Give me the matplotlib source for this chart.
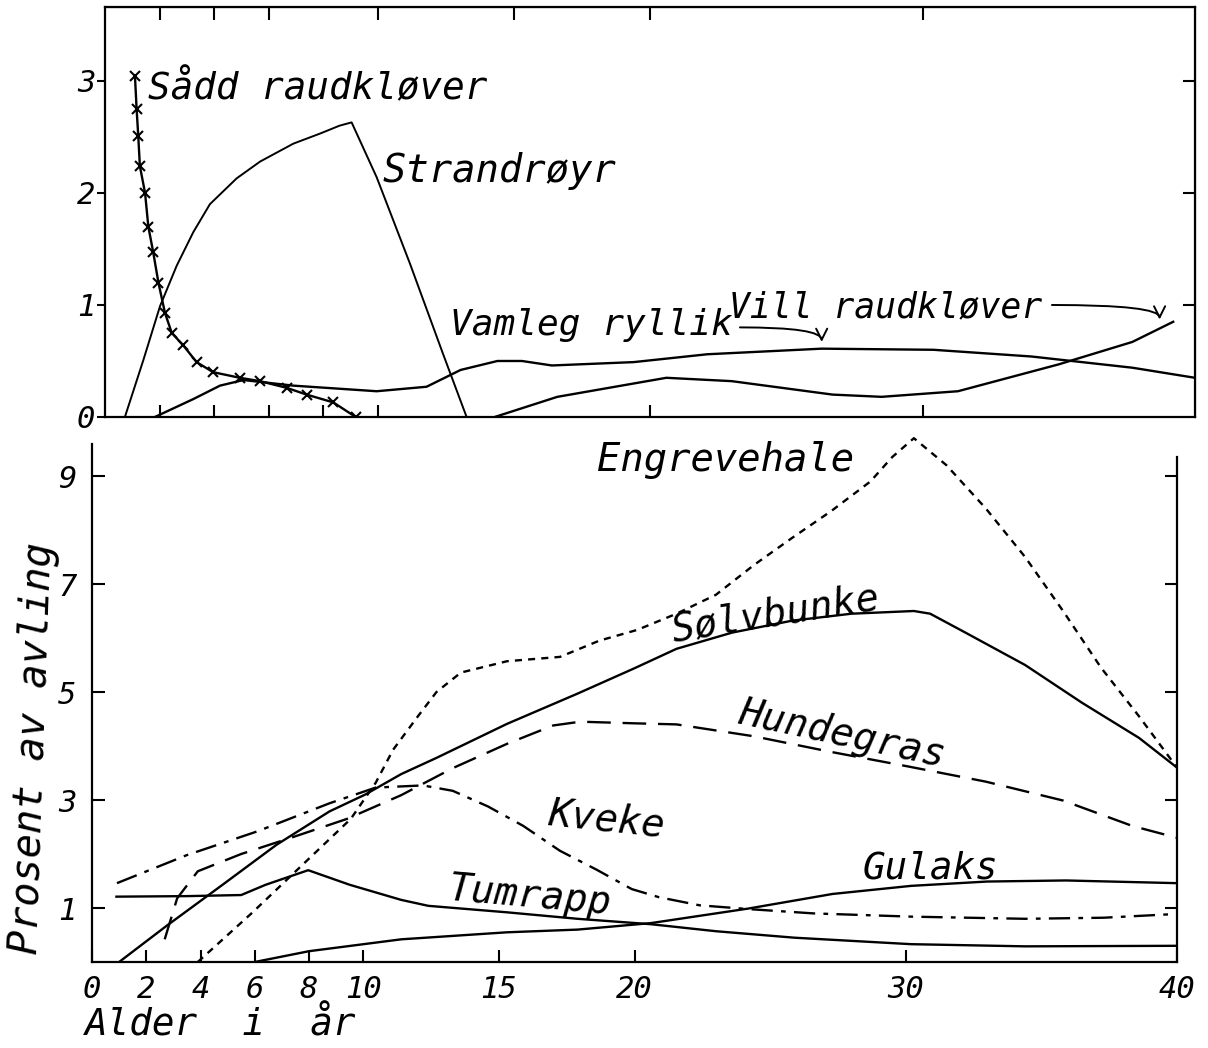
import matplotlib.pyplot as plt

# ---- top panel (clover, Strandrøyr, ryllik) ----
sadd_x = [1.10, 1.16, 1.22, 1.28, 1.47, 1.59, 1.77, 1.96, 2.2, 2.45, 2.87, 3.36, 3.97, 4.95, 5.69, 6.67, 7.4, 8.38, 9.2]
sadd_y = [3.04, 2.75, 2.51, 2.24, 2.0, 1.7, 1.47, 1.2, 0.93, 0.75, 0.64, 0.49, 0.4, 0.35, 0.32, 0.26, 0.2, 0.13, 0.0]

strand_x = [0.73, 1.41, 2.02, 2.63, 3.24, 3.85, 4.83, 5.69, 6.91, 7.89, 8.6, 9.05, 9.97, 11.19, 12.41, 13.27]
strand_y = [0.0, 0.51, 0.99, 1.35, 1.65, 1.9, 2.13, 2.28, 2.44, 2.53, 2.6, 2.63, 2.14, 1.37, 0.56, 0.0]

ryllik_x = [1.83, 3.24, 4.22, 5.08, 6.91, 9.97, 11.8, 13.05, 14.4, 15.3, 16.4, 19.4, 22.1, 26.3, 30.4, 34.0, 37.7, 40.0]
ryllik_y = [0.0, 0.16, 0.28, 0.33, 0.28, 0.23, 0.27, 0.42, 0.5, 0.5, 0.46, 0.49, 0.56, 0.61, 0.6, 0.54, 0.44, 0.35]

vill_x = [14.3, 16.6, 20.6, 23.0, 26.7, 28.5, 31.3, 35.0, 37.7, 39.2]
vill_y = [0.0, 0.18, 0.35, 0.32, 0.2, 0.18, 0.23, 0.47, 0.67, 0.85]

# ---- bottom panel (grasses) ----
engre_x = [3.9, 5.9, 7.97, 9.54, 10.46, 11.1, 12.0, 12.7, 13.6, 15.3, 17.25, 18.7, 20.1, 21.55, 23.0, 24.4,
           25.8, 27.25, 28.7, 29.5, 30.3, 31.5, 32.95, 34.4, 35.8, 37.2, 38.6, 40.0]
engre_y = [0.0, 0.91, 1.9, 2.65, 3.32, 3.93, 4.54, 5.0, 5.36, 5.57, 5.65, 5.95, 6.15, 6.45, 6.8, 7.35,
           7.85, 8.35, 8.9, 9.35, 9.7, 9.2, 8.4, 7.5, 6.5, 5.45, 4.55, 3.6]

solv_x = [1.0, 2.75, 4.84, 6.8, 8.76, 10.07, 11.4, 12.7, 15.3, 17.9, 20.0, 21.55, 23.6, 25.8, 28.0, 30.3,
          30.9, 32.2, 34.4, 36.5, 38.6, 40.0]
solv_y = [0.0, 0.67, 1.44, 2.17, 2.79, 3.1, 3.48, 3.78, 4.41, 4.97, 5.44, 5.8, 6.1, 6.32, 6.45, 6.5,
          6.45, 6.1, 5.5, 4.8, 4.15, 3.6]

hunde_x = [2.68, 3.14, 3.9, 5.5, 7.45, 9.4, 11.4, 13.3, 15.3, 17.0, 18.0, 20.0, 21.55, 24.4, 27.25, 30.1,
           32.95, 35.8, 38.35, 40.0]
hunde_y = [0.42, 1.18, 1.68, 2.0, 2.32, 2.65, 3.09, 3.59, 4.04, 4.38, 4.45, 4.42, 4.4, 4.18, 3.89, 3.62,
           3.34, 2.99, 2.52, 2.3]

kveke_x = [0.92, 3.5, 6.1, 8.76, 10.46, 12.2, 13.3, 14.6, 15.9, 17.25, 18.6, 19.9, 20.9, 22.4, 24.2, 26.6,
           30.2, 34.4, 37.3, 40.0]
kveke_y = [1.46, 1.98, 2.42, 2.94, 3.23, 3.27, 3.17, 2.88, 2.52, 2.06, 1.71, 1.35, 1.2, 1.05, 0.98, 0.9,
           0.84, 0.8, 0.82, 0.89]

tum_x = [0.9, 3.5, 5.5, 6.4, 7.97, 9.5, 11.4, 12.4, 15.3, 17.9, 20.6, 23.0, 25.9, 30.2, 34.4, 40.0]
tum_y = [1.21, 1.22, 1.24, 1.43, 1.7, 1.43, 1.15, 1.04, 0.92, 0.8, 0.7, 0.57, 0.45, 0.33, 0.29, 0.3]

gul_x = [6.0, 8.0, 11.4, 15.3, 17.9, 20.6, 24.2, 27.3, 30.2, 33.0, 35.9, 40.0]
gul_y = [0.0, 0.2, 0.42, 0.55, 0.6, 0.72, 0.99, 1.26, 1.41, 1.49, 1.51, 1.46]

xtick_vals = [0, 2, 4, 6, 8, 10, 15, 20, 30, 40]
xtick_text = ['0', '2', '4', '6', '8', '10', '15', '20', '30', '40']
ytick_bot = [1, 3, 5, 7, 9]
ytick_top = [0, 1, 2, 3]

plt.rcParams['font.family'] = 'DejaVu Sans Mono'
plt.rcParams['font.style'] = 'italic'

W, H = 1208, 1048
fig = plt.figure(figsize=(W / 100, H / 100), dpi=100)
LW = 1.7

# top panel
ax1 = fig.add_axes([105 / W, 1 - 417 / H, 1090 / W, 410 / H])
ax1.set_xlim(0, 40)
ax1.set_ylim(0, 3.66)
for s in ax1.spines.values():
    s.set_linewidth(1.6)
ax1.plot(sadd_x, sadd_y, color='black', lw=LW, marker='x', ms=7, mew=1.5)
ax1.plot(strand_x, strand_y, color='black', lw=1.4)
ax1.plot(ryllik_x, ryllik_y, color='black', lw=LW)
ax1.plot(vill_x, vill_y, color='black', lw=LW)

ax1.set_yticks(ytick_top)
ax1.set_yticklabels([str(v) for v in ytick_top], fontsize=22)
ax1.tick_params(axis='y', direction='out', length=6, width=1.5, pad=1)
ax1.set_xticks([2, 4, 6, 8, 10, 20, 30])
ax1.tick_params(axis='x', direction='in', length=9, width=1.5, labelbottom=False)
top2 = ax1.secondary_xaxis('top')
top2.set_xticks([2, 4, 6, 10, 15, 20, 30])
top2.tick_params(direction='in', length=9, width=1.5, labeltop=False)
right2 = ax1.secondary_yaxis('right')
right2.set_yticks([1, 2, 3])
right2.tick_params(direction='in', length=9, width=1.5, labelright=False)

ax1.text(1.58, 2.93, 'Sådd raudkløver', fontsize=27, va='center', ha='left')
ax1.text(10.2, 2.2, 'Strandrøyr', fontsize=28, va='center', ha='left')
ax1.text(12.66, 0.82, 'Vamleg ryllik', fontsize=26, va='center', ha='left')
ax1.text(22.9, 0.98, 'Vill raudkløver', fontsize=25, va='center', ha='left')
arrow = dict(arrowstyle='->', lw=1.4, color='black', mutation_scale=20,
             shrinkA=0, shrinkB=0, connectionstyle='angle3,angleA=0,angleB=90')
ax1.annotate('', xy=(26.3, 0.67), xytext=(23.3, 0.8), arrowprops=arrow)
ax1.annotate('', xy=(38.7, 0.87), xytext=(34.75, 1.0), arrowprops=arrow)

# bottom panel
ax2 = fig.add_axes([92 / W, 1 - 962 / H, 1085 / W, 540 / H])
ax2.set_facecolor('none')
ax2.set_xlim(0, 40)
ax2.set_ylim(0, 10)
ax2.spines['top'].set_visible(False)
ax2.spines['left'].set_bounds(0, 9.6)
ax2.spines['right'].set_bounds(0, 9.35)
for s in ax2.spines.values():
    s.set_linewidth(1.6)

ax2.plot(engre_x, engre_y, color='black', lw=LW, ls=(0, (3, 2.6)), clip_on=False)
ax2.plot(solv_x, solv_y, color='black', lw=LW)
ax2.plot(hunde_x, hunde_y, color='black', lw=LW, ls=(0, (10, 5)))
ax2.plot(kveke_x, kveke_y, color='black', lw=LW, ls=(0, (9, 3.5, 2, 3.5)))
ax2.plot(tum_x, tum_y, color='black', lw=LW)
ax2.plot(gul_x, gul_y, color='black', lw=LW)

ax2.set_xticks(xtick_vals)
ax2.set_xticklabels(xtick_text, fontsize=22)
ax2.tick_params(axis='x', direction='in', length=9, width=1.5, pad=9)
ax2.set_yticks(ytick_bot)
ax2.set_yticklabels([str(v) for v in ytick_bot], fontsize=22)
ax2.tick_params(axis='y', direction='in', length=9, width=1.5, pad=11, right=True)

ax2.text(18.6, 9.3, 'Engrevehale', fontsize=28, va='center', ha='left')
ax2.text(25.2, 6.44, 'Sølvbunke', fontsize=28, va='center', ha='center',
         rotation=9, rotation_mode='anchor')
ax2.text(27.65, 4.21, 'Hundegras', fontsize=28, va='center', ha='center',
         rotation=-12, rotation_mode='anchor')
ax2.text(18.95, 2.63, 'Kveke', fontsize=28, va='center', ha='center',
         rotation=-6, rotation_mode='anchor')
ax2.text(16.15, 1.22, 'Tumrapp', fontsize=28, va='center', ha='center',
         rotation=-5, rotation_mode='anchor')
ax2.text(30.9, 1.74, 'Gulaks', fontsize=27, va='center', ha='center')

fig.text(33 / W, 1 - 748 / H, 'Prosent av avling', fontsize=29, rotation=88,
         ha='center', va='center')
fig.text(85 / W, 1 - 1025 / H, 'Alder  i  år', fontsize=27, ha='left', va='center')

fig.savefig('out.png', dpi=100, facecolor='white')
